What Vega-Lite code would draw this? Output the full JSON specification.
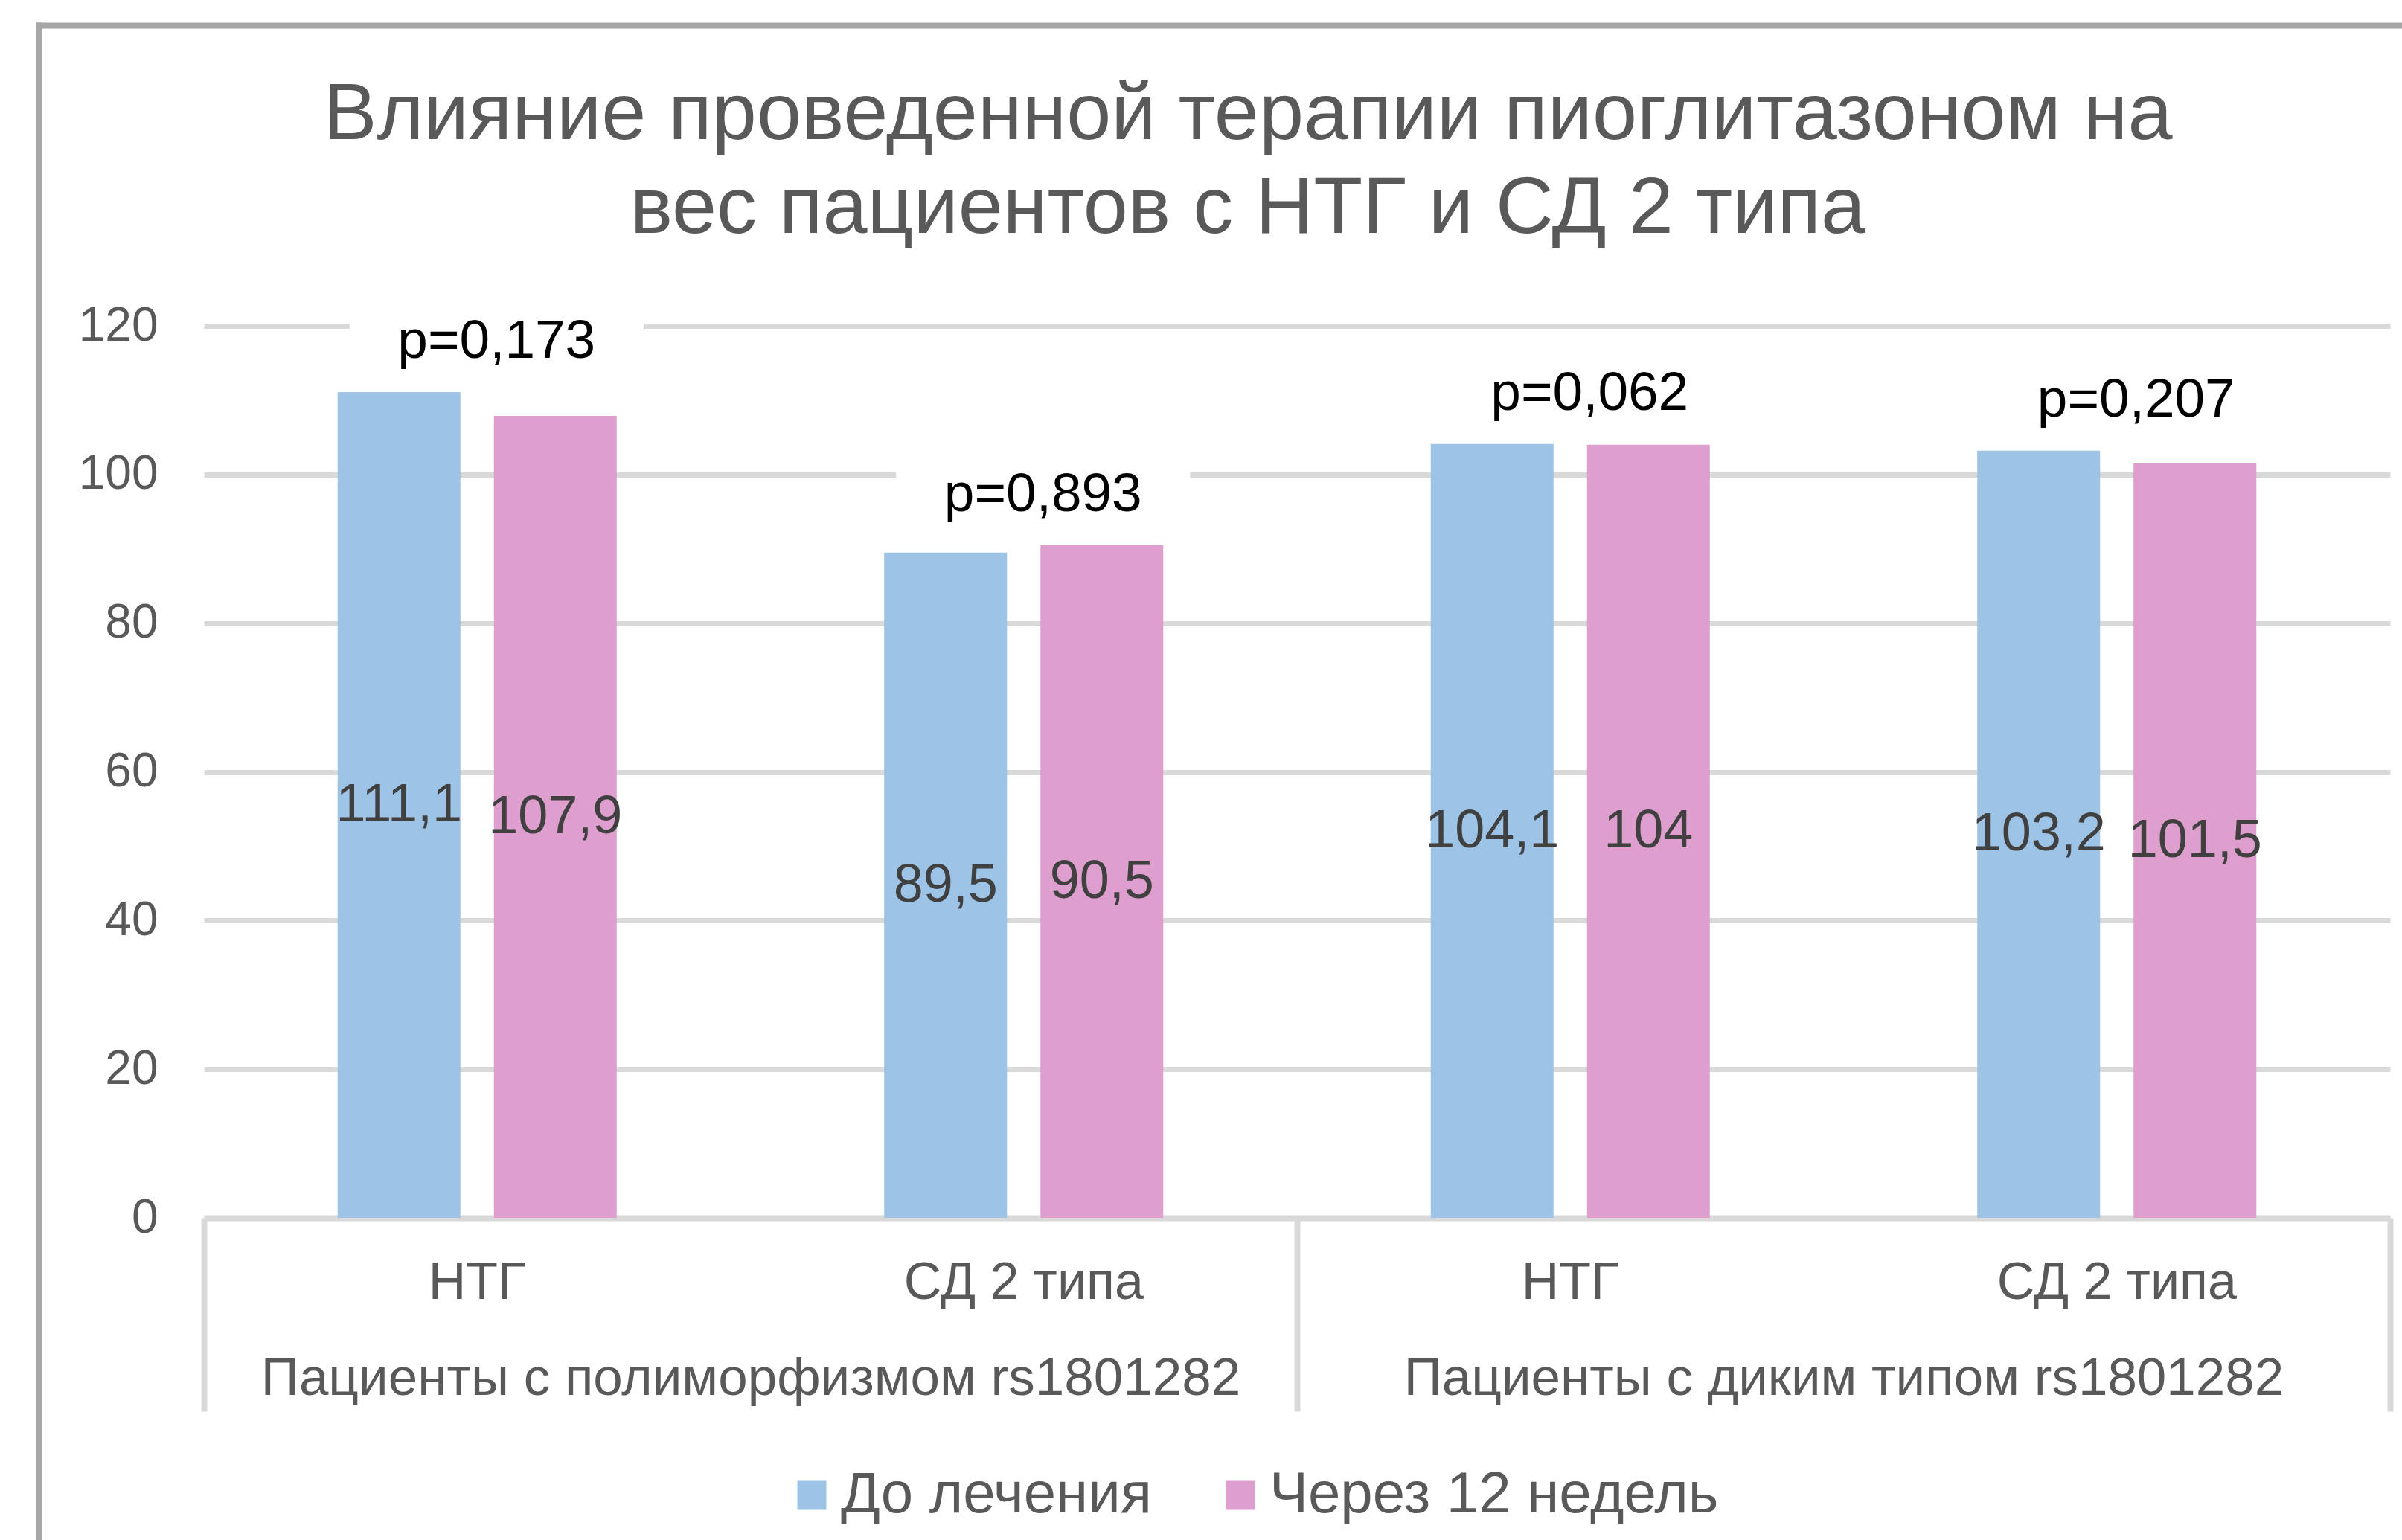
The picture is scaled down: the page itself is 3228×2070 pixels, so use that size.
{
  "$schema": "https://vega.github.io/schema/vega-lite/v6.json",
  "width": 2938,
  "height": 1199,
  "autosize": {"type": "none"},
  "padding": {"left": 274, "top": 438, "right": 16, "bottom": 433},
  "background": "white",
  "config": {
    "font": "Liberation Sans",
    "view": {"stroke": null},
    "locale": {"number": {"decimal": ",", "thousands": "\u00a0", "grouping": [3], "currency": ["", ""]}}
  },
  "title": {
    "text": ["Влияние проведенной терапии пиоглитазоном на", "вес пациентов с НТГ и СД 2 типа"],
    "fontSize": 108,
    "fontWeight": "normal",
    "color": "#595959",
    "lineHeight": 126,
    "anchor": "middle",
    "frame": "group",
    "dx": -66,
    "offset": -310
  },
  "data": {
    "values": [
      {"parent": "Пациенты с полиморфизмом rs1801282", "key": "1|НТГ", "series": "До лечения", "value": 111.1, "p": "p=0,173"},
      {"parent": "Пациенты с полиморфизмом rs1801282", "key": "1|НТГ", "series": "Через 12 недель", "value": 107.9, "p": "p=0,173"},
      {"parent": "Пациенты с полиморфизмом rs1801282", "key": "1|СД 2 типа", "series": "До лечения", "value": 89.5, "p": "p=0,893"},
      {"parent": "Пациенты с полиморфизмом rs1801282", "key": "1|СД 2 типа", "series": "Через 12 недель", "value": 90.5, "p": "p=0,893"},
      {"parent": "Пациенты с диким типом rs1801282", "key": "2|НТГ", "series": "До лечения", "value": 104.1, "p": "p=0,062"},
      {"parent": "Пациенты с диким типом rs1801282", "key": "2|НТГ", "series": "Через 12 недель", "value": 104, "p": "p=0,062"},
      {"parent": "Пациенты с диким типом rs1801282", "key": "2|СД 2 типа", "series": "До лечения", "value": 103.2, "p": "p=0,207"},
      {"parent": "Пациенты с диким типом rs1801282", "key": "2|СД 2 типа", "series": "Через 12 недель", "value": 101.5, "p": "p=0,207"}
    ]
  },
  "layer": [
    {
      "layer": [
        {
          "mark": {"type": "bar"},
          "encoding": {
            "x": {
              "field": "key", "type": "nominal",
              "scale": {"domain": ["1|НТГ", "1|СД 2 типа", "2|НТГ", "2|СД 2 типа"], "paddingInner": 0.4894, "paddingOuter": 0.2447},
              "axis": {
                "orient": "bottom", "title": null, "labelExpr": "split(datum.label, '|')[1]",
                "domain": true, "domainColor": "#D9D9D9", "domainWidth": 8,
                "ticks": false, "tickSize": 0, "grid": false,
                "labelAngle": 0, "labelFontSize": 70, "labelColor": "#595959",
                "labelBaseline": "middle", "labelPadding": 87, "labelOverlap": false, "labelLimit": 0
              }
            },
            "xOffset": {
              "field": "series", "type": "nominal",
              "scale": {"domain": ["До лечения", "Через 12 недель"], "paddingInner": 0.2143, "paddingOuter": 0}
            },
            "y": {
              "field": "value", "type": "quantitative",
              "scale": {"domain": [0, 120], "nice": false},
              "axis": {
                "title": null, "values": [0, 20, 40, 60, 80, 100, 120],
                "domain": false, "ticks": false,
                "grid": true, "gridColor": "#D9D9D9", "gridWidth": 7,
                "labelFontSize": 64, "labelColor": "#595959", "labelPadding": 62
              }
            },
            "color": {
              "field": "series", "type": "nominal",
              "scale": {"domain": ["До лечения", "Через 12 недель"], "range": ["#9DC3E6", "#DE9ECE"]},
              "legend": {
                "title": null, "orient": "none", "direction": "horizontal",
                "legendX": 778, "legendY": 1533,
                "symbolType": "square", "symbolSize": 1521, "symbolStrokeWidth": 0,
                "labelFontSize": 78, "labelColor": "#595959", "labelOffset": 0,
                "columnPadding": 80, "padding": 0, "labelLimit": 0
              }
            }
          }
        },
        {
          "mark": {"type": "text", "fontSize": 72, "color": "#404040", "baseline": "middle"},
          "encoding": {
            "x": {"field": "key", "type": "nominal"},
            "xOffset": {"field": "series", "type": "nominal"},
            "y": {"field": "value", "type": "quantitative", "scale": {"domain": [0, 240], "nice": false}, "axis": null},
            "text": {"field": "value", "type": "quantitative", "format": ".4~r"}
          }
        },
        {
          "mark": {"type": "tick", "color": "white", "opacity": 1, "thickness": 80, "size": 395, "xOffset": 26, "yOffset": -72},
          "encoding": {
            "x": {"field": "key", "type": "nominal"},
            "y": {"aggregate": "max", "field": "value", "type": "quantitative", "scale": {"domain": [0, 120], "nice": false}, "axis": null}
          }
        },
        {
          "mark": {"type": "text", "fontSize": 73, "color": "#000000", "baseline": "middle", "dx": 26, "dy": -68},
          "encoding": {
            "x": {"field": "key", "type": "nominal"},
            "y": {"aggregate": "max", "field": "value", "type": "quantitative", "scale": {"domain": [0, 120], "nice": false}, "axis": null},
            "text": {"field": "p", "type": "nominal"}
          }
        }
      ],
      "resolve": {"scale": {"y": "independent"}}
    },
    {
      "mark": {"type": "text", "opacity": 0},
      "encoding": {
        "x": {
          "field": "parent", "type": "nominal",
          "scale": {"domain": ["Пациенты с полиморфизмом rs1801282", "Пациенты с диким типом rs1801282"], "paddingInner": 0, "paddingOuter": 0},
          "axis": {
            "orient": "bottom", "title": null, "domain": false, "grid": false,
            "ticks": true, "tickBand": "extent", "tickSize": 260, "tickWidth": 8, "tickColor": "#D9D9D9",
            "labelAngle": 0, "labelFontSize": 71, "labelColor": "#595959",
            "labelBaseline": "middle", "labelPadding": -44, "labelOverlap": false, "labelLimit": 0
          }
        },
        "text": {"field": "parent", "type": "nominal"}
      }
    },
    {
      "mark": {"type": "point", "opacity": 0},
      "encoding": {
        "x": {
          "field": "value", "type": "quantitative",
          "scale": {"domain": [0, 120], "nice": false, "zero": true},
          "axis": {
            "orient": "top", "offset": 408, "values": [0], "title": null,
            "domain": false, "grid": false, "labels": false,
            "ticks": true, "tickOffset": -222, "tickSize": -2045, "tickWidth": 8, "tickColor": "#A6A6A6"
          }
        },
        "y": {
          "field": "value", "type": "quantitative",
          "scale": {"domain": [0, 120], "nice": false, "zero": true},
          "axis": {
            "orient": "left", "offset": 226, "values": [120], "title": null,
            "domain": false, "grid": false, "labels": false,
            "ticks": true, "tickOffset": -404, "tickSize": -3200, "tickWidth": 8, "tickColor": "#A6A6A6"
          }
        }
      }
    }
  ],
  "resolve": {"scale": {"x": "independent", "y": "independent"}}
}
